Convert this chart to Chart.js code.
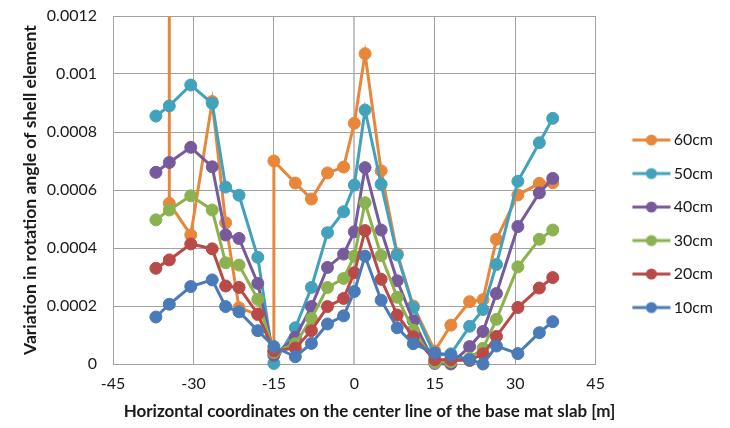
<!DOCTYPE html>
<html>
<head>
<meta charset="utf-8">
<script src="https://cdn.jsdelivr.net/npm/chart.js@4.4.1/dist/chart.umd.min.js"></script>
<style>
  body { margin: 0; background: #fff; }
</style>
</head>
<body>
<canvas id="chart" width="730" height="428"></canvas>
<script>
'use strict';

// x positions (m) shared by the 10cm..50cm series
var xs = [-37, -34.5, -30.5, -26.5, -24, -21.5, -18, -15, -11, -8, -5, -2, 0,
  2, 5, 8, 11, 15, 18, 21.5, 24, 26.5, 30.5, 34.5, 37];

var y10cm = [0.000162, 0.000206, 0.000267, 0.00029, 0.000198, 0.00018, 0.000115, 0.00006, 0.000025,
  0.000071, 0.000138, 0.000166, 0.00025, 0.000372, 0.00022, 0.000125, 0.00007, 0.000038,
  0.000031, 0.000015, 0.0, 0.000062, 0.000036, 0.000108, 0.000146];
var y20cm = [0.00033, 0.000359, 0.000414, 0.000397, 0.000269, 0.000264, 0.000172, 0.000045, 0.000055,
  0.000115, 0.000198, 0.000226, 0.000315, 0.00046, 0.000292, 0.000169, 0.000094, 0.000015,
  0.000015, 0.000012, 0.000035, 0.000095, 0.000195, 0.000262, 0.000298];
var y30cm = [0.000497, 0.000531, 0.00058, 0.000531, 0.000349, 0.000341, 0.000223, 0.00004, 0.00007,
  0.000157, 0.000264, 0.000295, 0.000372, 0.000556, 0.000374, 0.00023, 0.000117, 0.000005,
  0.000008, 0.00002, 0.000054, 0.000154, 0.000335, 0.00043, 0.000462];
var y40cm = [0.000661, 0.000695, 0.000747, 0.00068, 0.000445, 0.000433, 0.000278, 0.00003, 0.000092,
  0.000198, 0.000333, 0.000379, 0.000456, 0.000677, 0.000462, 0.000287, 0.000149, 0.000002,
  0.0, 0.00006, 0.000112, 0.000243, 0.000474, 0.00059, 0.00064];
var y50cm = [0.000855, 0.00089, 0.000962, 0.000899, 0.00061, 0.000582, 0.000368, 0.000002, 0.000125,
  0.000264, 0.000453, 0.000525, 0.000617, 0.000876, 0.00062, 0.000376, 0.000195, 0.00003,
  0.000035, 0.00013, 0.000188, 0.000343, 0.00063, 0.000763, 0.000847];

// the 60cm series runs off the top at the left end and jumps at -15
var x60cm = [-34.5, -34.5, -30.5, -26.5, -24, -21.5, -18, -15, -15, -11, -8, -5, -2, 0,
  2, 5, 8, 11, 15, 18, 21.5, 24, 26.5, 30.5, 34.5, 37];
var y60cm = [0.003, 0.000554, 0.000445, 0.000905, 0.000487, 0.000194, 0.00017, 0.000045, 0.0007,
  0.000624, 0.000569, 0.000659, 0.000679, 0.00083, 0.00107, 0.000666, 0.00038, 0.0002,
  0.000045, 0.000134, 0.000215, 0.000222, 0.00043, 0.000583, 0.000623, 0.000625];

var seriesNames = ['10cm', '20cm', '30cm', '40cm', '50cm', '60cm'];
var seriesX = [xs, xs, xs, xs, xs, x60cm];
var seriesY = [y10cm, y20cm, y30cm, y40cm, y50cm, y60cm];
var colors = ['#4a7ab8', '#b84a48', '#8cb250', '#775a9b', '#42a2bb', '#e8873a'];

var xTicks = [-45, -30, -15, 0, 15, 30, 45];

function toPoints(xArr, yArr) {
  var pts = [];
  for (var i = 0; i < xArr.length; i++) {
    pts.push({ x: xArr[i], y: yArr[i] });
  }
  return pts;
}

// legend marker: short line with a dot, drawn off-centre so the text sits close
function legendMarker(color) {
  var c = document.createElement('canvas');
  c.width = 80;
  c.height = 16;
  var g = c.getContext('2d');
  g.strokeStyle = color;
  g.lineWidth = 3;
  g.beginPath();
  g.moveTo(33, 8);
  g.lineTo(71, 8);
  g.stroke();
  g.fillStyle = color;
  g.beginPath();
  g.arc(52, 8, 5.5, 0, Math.PI * 2);
  g.fill();
  return c;
}

var datasets = [];
for (var i = 0; i < seriesNames.length; i++) {
  datasets.push({
    label: seriesNames[i],
    data: toPoints(seriesX[i], seriesY[i]),
    showLine: true,
    borderColor: colors[i],
    backgroundColor: colors[i],
    borderWidth: 3,
    pointRadius: 6,
    pointBorderWidth: 1,
    pointBackgroundColor: colors[i],
    pointBorderColor: colors[i],
    clip: { left: 10, right: 10, top: 0, bottom: 10 }
  });
}

var ctx = document.getElementById('chart').getContext('2d');
var textColor = '#1a1a1a';
var gridColor = '#a2a2a2';

new Chart(ctx, {
  type: 'scatter',
  data: { datasets: datasets },
  options: {
    responsive: false,
    animation: false,
    layout: { padding: { top: 16, right: 7, bottom: 0, left: 16 } },
    plugins: {
      tooltip: { enabled: false },
      title: {
        display: true,
        position: 'bottom',
        text: 'Horizontal coordinates on the center line of the base mat slab [m]',
        color: textColor,
        font: { family: 'Lato', size: 17, weight: 'bold' },
        padding: { top: 0, bottom: 6 }
      },
      legend: {
        position: 'right',
        reverse: true,
        title: { display: true, text: '', font: { size: 3 }, padding: 0 },
        labels: {
          usePointStyle: true,
          pointStyleWidth: 52.5,
          padding: 17.5,
          color: textColor,
          font: { family: 'Lato', size: 16 },
          generateLabels: function (chart) {
            var items = Chart.defaults.plugins.legend.labels.generateLabels(chart);
            items.forEach(function (it) {
              it.pointStyle = legendMarker(colors[it.datasetIndex]);
            });
            return items;
          }
        }
      }
    },
    scales: {
      x: {
        type: 'linear',
        min: -45,
        max: 45,
        afterFit: function (scale) { scale.height = 37.6; },
        afterBuildTicks: function (scale) {
          scale.ticks = xTicks.map(function (v) { return { value: v }; });
        },
        ticks: { color: textColor, padding: 10, font: { family: 'Lato', size: 16 } },
        grid: {
          drawTicks: false,
          color: function (c) { return c.tick && c.tick.value === 0 ? '#c4c4c4' : gridColor; },
          lineWidth: function (c) { return c.tick && c.tick.value === 0 ? 2 : 1; }
        },
        border: { color: gridColor }
      },
      y: {
        min: 0,
        max: 0.0012,
        afterFit: function (scale) {
          scale.width = 97;
          scale.paddingTop = 0;
          scale.paddingBottom = 0;
        },
        ticks: {
          stepSize: 0.0002,
          color: textColor,
          padding: 16,
          font: { family: 'Lato', size: 16 },
          callback: function (v) { return String(parseFloat(v.toFixed(4))); }
        },
        grid: { drawTicks: false, color: gridColor },
        border: { color: gridColor },
        title: {
          display: true,
          text: 'Variation in rotation angle of shell element',
          color: textColor,
          font: { family: 'Lato', size: 17.5, weight: 'bold' },
          padding: { top: 3.5, bottom: 0 }
        }
      }
    }
  }
});
</script>
</body>
</html>
